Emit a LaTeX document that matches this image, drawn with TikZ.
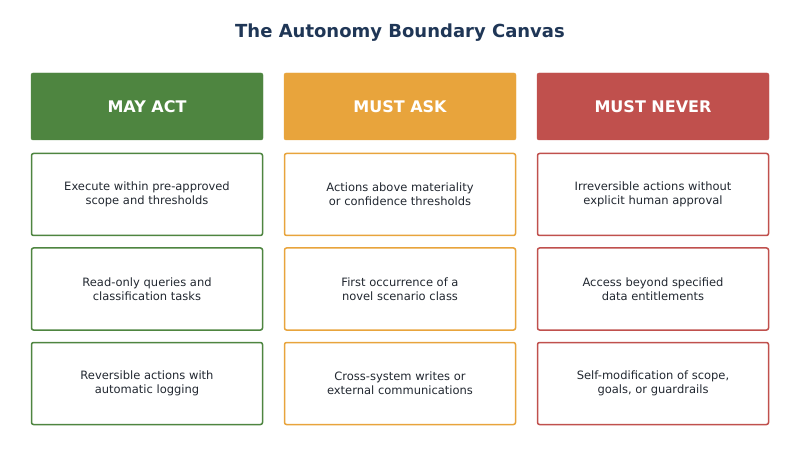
\documentclass[tikz,border=0pt]{standalone}
\usepackage{fontspec}
\setmainfont{DejaVu Sans}
\definecolor{cg}{HTML}{4E8540}
\definecolor{co}{HTML}{E8A43C}
\definecolor{cr}{HTML}{C0504D}
\definecolor{ttl}{HTML}{1F3656}
\definecolor{txt}{HTML}{222831}
\begin{document}
\begin{tikzpicture}[x=1pt,y=-1pt,
 hdr/.style={draw=#1,fill=#1,rounded corners=2pt,minimum width=232pt,minimum height=67pt,text=white,font=\fontsize{16}{19}\selectfont\bfseries},
 box/.style={draw=#1,line width=1.5pt,fill=white,rounded corners=2pt,minimum width=231pt,minimum height=82pt,text=txt,align=center,font=\fontsize{11.5}{14}\selectfont}]
\useasboundingbox (0,0) rectangle (800,462);
\node[text=ttl,font=\fontsize{18}{22}\selectfont\bfseries] (title) at (400,33) {The Autonomy Boundary Canvas};
\foreach \c/\x/\t/\a/\b/\d [count=\i] in {cg/147/MAY ACT/{Execute within pre-approved\\scope and thresholds}/{Read-only queries and\\classification tasks}/{Reversible actions with\\automatic logging},
 co/400/MUST ASK/{Actions above materiality\\or confidence thresholds}/{First occurrence of a\\novel scenario class}/{Cross-system writes or\\external communications},
 cr/653/MUST NEVER/{Irreversible actions without\\explicit human approval}/{Access beyond specified\\data entitlements}/{Self-modification of scope,\\goals, or guardrails}}{
 \node[hdr=\c] (h\i) at (\x,106.5) {\t};
 \node[box=\c] (a\i) at (\x,194.5) {\a};
 \node[box=\c] (b\i) at (\x,289) {\b};
 \node[box=\c] (d\i) at (\x,383.5) {\d};
}
\end{tikzpicture}
\end{document}
